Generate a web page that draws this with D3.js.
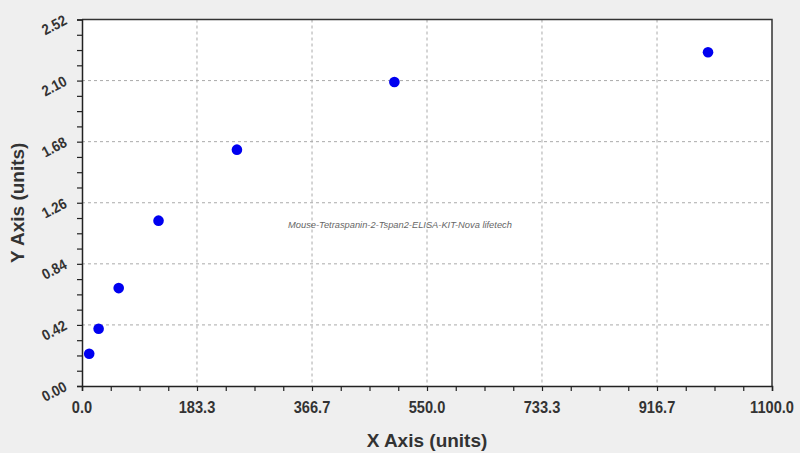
<!DOCTYPE html>
<html>
<head>
<meta charset="utf-8">
<script src="https://cdn.jsdelivr.net/npm/d3@7"></script>
<style>
  body { margin: 0; background: #efefef; }
  svg { display: block; }
</style>
</head>
<body>
<div id="chart"></div>
<script>
// data
const xValues = [11.5, 26.5, 58.5, 122, 247, 498, 998];
const yValues = [0.222, 0.394, 0.673, 1.137, 1.625, 2.09, 2.295];
const xTicks = [0, 183.3, 366.7, 550, 733.3, 916.7, 1100];
const yTicks = [0, 0.42, 0.84, 1.26, 1.68, 2.10, 2.52];
const title = 'Mouse-Tetraspanin-2-Tspan2-ELISA-KIT-Nova lifetech';

let width = 800;
let height = 453;
let m = { left: 82, right: 28, top: 19.5, bottom: 67 };
let w = width - m.left - m.right;
let h = height - m.top - m.bottom;

let svg = d3.select('#chart').append('svg')
  .attr('width', width).attr('height', height)
  .style('font-family', 'Arial, "Liberation Sans", sans-serif');

svg.append('rect').attr('width', width).attr('height', height).attr('fill', '#efefef');

let g = svg.append('g').attr('transform', 'translate(' + m.left + ',' + m.top + ')');

let x = d3.scaleLinear().domain([0, 1100]).range([0, w]);
let y = d3.scaleLinear().domain([0, 2.52]).range([h, 0]);

// plot area
g.append('rect').attr('width', w).attr('height', h).attr('fill', '#fff');

// grid
g.selectAll('.gx').data(xTicks.slice(1, -1)).enter().append('line')
  .attr('x1', d => x(d)).attr('x2', d => x(d)).attr('y1', 0).attr('y2', h)
  .attr('stroke', '#aaa').attr('stroke-dasharray', '3,3');
g.selectAll('.gy').data(yTicks.slice(1, -1)).enter().append('line')
  .attr('y1', d => y(d)).attr('y2', d => y(d)).attr('x1', 0).attr('x2', w)
  .attr('stroke', '#aaa').attr('stroke-dasharray', '3,3');

// frame top/right
g.append('path').attr('d', 'M0,0H' + w + 'V' + h)
  .attr('fill', 'none').attr('stroke', '#333').attr('stroke-width', 1.5);

// minor ticks
let xMinor = d3.range(0, 25).map(i => i * 1100 / 24);
let yMinor = d3.range(0, 25).map(i => i * 2.52 / 24);

let xAxis = g.append('g').attr('transform', 'translate(0,' + h + ')')
  .call(d3.axisBottom(x).tickValues(xMinor).tickSize(5).tickFormat(''));
let yAxis = g.append('g')
  .call(d3.axisLeft(y).tickValues(yMinor).tickSize(5).tickFormat(''));
[xAxis, yAxis].forEach(a => {
  a.select('.domain').attr('stroke', '#222').attr('stroke-width', 1.5);
  a.selectAll('.tick line').attr('stroke', '#222').attr('stroke-width', 1.2);
});

// x tick labels
g.selectAll('.xl').data(xTicks).enter().append('text')
  .attr('text-anchor', 'middle')
  .attr('font-size', '17px').attr('font-weight', 'bold').attr('fill', '#333')
  .attr('transform', d => 'translate(' + x(d) + ',' + (h + 27) + ') scale(0.86,1)')
  .text(d => d.toFixed(1));

// y tick labels (tilted)
g.selectAll('.yl').data(yTicks).enter().append('text')
  .attr('text-anchor', 'end')
  .attr('font-size', '15px').attr('font-weight', 'bold').attr('fill', '#333')
  .attr('transform', d => 'translate(-14,' + (y(d) + 4) + ') rotate(-28) scale(0.88,1)')
  .text(d => d.toFixed(2));

// points
g.selectAll('.pt').data(xValues).enter().append('circle')
  .attr('cx', d => x(d))
  .attr('cy', (d, i) => y(yValues[i]))
  .attr('r', 5.3)
  .attr('fill', '#0000f0');

// center watermark text
svg.append('text')
  .attr('x', 400).attr('y', 228)
  .attr('text-anchor', 'middle')
  .attr('font-size', '9.3px').attr('font-style', 'italic').attr('fill', '#666')
  .text(title);

// axis titles
svg.append('text')
  .attr('x', m.left + w / 2).attr('y', 447)
  .attr('text-anchor', 'middle')
  .attr('font-size', '19px').attr('font-weight', 'bold').attr('fill', '#333')
  .text('X Axis (units)');

svg.append('text')
  .attr('transform', 'translate(24,' + (m.top + h / 2) + ') rotate(-90)')
  .attr('text-anchor', 'middle')
  .attr('font-size', '19px').attr('font-weight', 'bold').attr('fill', '#333')
  .text('Y Axis (units)');
</script>
</body>
</html>
